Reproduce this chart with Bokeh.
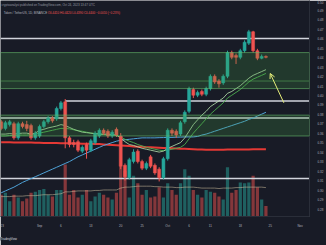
import pandas as pd
from bokeh.plotting import figure
from bokeh.models import (Range1d, FixedTicker, SingleIntervalTicker, NumeralTickFormatter,
                          BoxAnnotation, Label, Arrow, OpenHead, ColumnDataSource, Title)
from bokeh.embed import file_html
from bokeh.resources import INLINE

# ---------------- data ----------------
dates = [d.strftime("%b %d") for d in pd.date_range("2023-08-23", "2023-10-24", freq="D")]

opens = [.372,.365,.369,.370,.355,.370,.369,.368,.355,.357, .367,.372,.376,.375,.386,.393,.355,.350,.351,.341,
         .348,.342,.350,.357,.363,.362,.357,.364,.357,.326, .313,.330,.341,.330,.323,.335,.326,.322,.313,.333,
         .363,.362,.359,.372,.383,.406,.400,.404,.401,.407, .420,.415,.413,.420,.445,.442,.440,.447,.455,.467,
         .447,.439,.441]
highs = [.374,.373,.374,.372,.372,.372,.373,.370,.362,.369, .374,.378,.378,.388,.394,.396,.357,.353,.353,.347,
         .350,.354,.362,.365,.365,.364,.363,.366,.360,.328, .334,.343,.343,.332,.330,.337,.328,.324,.335,.365,
         .365,.364,.373,.384,.409,.408,.405,.406,.409,.422, .422,.417,.422,.447,.447,.444,.449,.458,.469,.468,
         .449,.443,.442]
lows = [.363,.363,.367,.353,.353,.365,.362,.353,.353,.355, .365,.370,.371,.373,.384,.344,.345,.345,.340,.339,
        .333,.340,.348,.355,.358,.355,.355,.356,.322,.310, .311,.328,.328,.321,.321,.323,.316,.309,.311,.331,
        .357,.355,.357,.370,.381,.397,.398,.399,.399,.405, .412,.408,.411,.418,.438,.433,.438,.445,.453,.445,
        .437,.438,.439]
closes = [.365,.371,.372,.355,.370,.367,.365,.355,.360,.367, .372,.376,.373,.386,.392,.355,.348,.348,.342,.345,
          .342,.352,.360,.363,.360,.357,.361,.358,.325,.314, .332,.340,.330,.323,.328,.325,.318,.313,.333,.363,
          .360,.358,.371,.382,.407,.400,.403,.401,.407,.420, .414,.412,.420,.445,.440,.440,.447,.456,.467,.447,
          .439,.441,.440]
volumes = [23,25,16,23,20,16,19,25,26,28, 29,23,21,28,28,55,23,28,20,23,
           28,16,21,25,23,20,18,25,53,48, 20,43,35,23,28,20,21,31,20,35,
           28,23,35,50,43,28,23,20,28,26, 25,21,18,52,25,28,36,35,36,43,
           31,18,11]
vol_ma = [21,21,21,21.5,21.5,21.5,22,22,22,22.5, 23,23,23,23.5,24,26,26,26.5,27,27,
          27,27,27.5,27.5,28,28,28,28,30,31, 31,31.5,32,32,32,32,31.5,31.5,31,31,
          31,30.5,30.5,31,31,31,30.5,30,30,30, 30,29.5,30,30,30,30.5,30.5,31,31,31,
          31,31,30.5]
sma_red = [.3505,.3504,.3503,.3502,.3502,.3501,.3500,.3500,.3499,.3498, .3497,.3496,.3496,.3495,.3494,.3493,.3492,.3491,.3490,.3489,
           .3488,.3487,.3486,.3484,.3481,.3478,.3475,.3472,.3469,.3466, .3463,.3460,.3457,.3455,.3452,.3450,.3448,.3446,.3444,.3442,
           .3440,.3438,.3436,.3434,.3432,.3430,.3428,.3426,.3424,.3424, .3424,.3425,.3425,.3426,.3426,.3427,.3427,.3428,.3428,.3429,
           .3429,.3430,.3430]
sma_blue = [.297,.299,.301,.303,.3055,.308,.310,.312,.314,.316, .318,.320,.322,.324,.326,.328,.330,.3325,.335,.337,
            .339,.341,.343,.345,.347,.3485,.350,.3515,.3525,.353, .3535,.354,.3545,.355,.355,.355,.355,.3552,.3553,.3555,
            .3555,.3557,.3558,.356,.356,.356,.3565,.358,.359,.3605, .362,.3635,.365,.3665,.368,.3695,.371,.3725,.3745,.376,
            .378,.380,.382]
ema_fast = [.359,.359,.3595,.359,.3595,.360,.360,.359,.360,.363, .364,.3655,.3665,.3675,.369,.368,.366,.364,.3625,.361,
            .3605,.360,.3595,.359,.359,.359,.3585,.358,.355,.351, .348,.347,.3455,.344,.343,.342,.341,.340,.341,.344,
            .346,.348,.350,.355,.362,.369,.374,.379,.383,.388, .391,.394,.397,.402,.404,.407,.410,.414,.418,.421,
            .423,.425,.427]
ema_slow = [.357,.357,.3575,.3575,.358,.358,.358,.3585,.359,.360, .361,.362,.363,.364,.365,.365,.3645,.3635,.3625,.362,
            .361,.360,.3595,.359,.3585,.358,.358,.3575,.356,.3535, .3515,.350,.348,.3465,.345,.344,.343,.342,.3415,.342,
            .343,.344,.345,.348,.354,.360,.365,.370,.375,.380, .384,.388,.392,.397,.400,.403,.406,.410,.414,.417,
            .419,.421,.423]

# levels / zones (prices)
white_levels = [0.460, 0.376, 0.312]
break_level = 0.394          # drawn from the Sep 7 high onward
break_start = 15
zone_upper = (0.407, 0.445)
zone_upper_mid = 0.415
zone_lower = (0.357, 0.379)
last_price = 0.440

tick_idx = [0, 9, 14, 21, 28, 33, 39, 44, 49, 56, 63, 70]
tick_txt = ["23", "Sep", "6", "13", "20", "25", "Oct", "6", "11", "18", "25", "Nov"]

# ---------------- figure ----------------
BG = "#181b26"
GREEN = "#26a69a"
RED = "#ef5350"

n = len(opens)
idx = list(range(n))
up = [c >= o for o, c in zip(opens, closes)]
col = [GREEN if u else RED for u in up]
src = ColumnDataSource(dict(i=idx, d=dates, o=opens, h=highs, l=lows, c=closes,
                            top=[max(o, c) for o, c in zip(opens, closes)],
                            bot=[min(o, c) for o, c in zip(opens, closes)],
                            col=col, vol=volumes, vma=vol_ma,
                            red=sma_red, blue=sma_blue, f=ema_fast, s=ema_slow))

p = figure(width=326, height=245, output_backend="svg", toolbar_location=None,
           x_range=Range1d(-0.15, 72.2), y_range=Range1d(0.272, 0.500),
           y_axis_location="right", min_border_left=0, min_border_top=0,
           min_border_right=0, min_border_bottom=0,
           background_fill_color=BG, border_fill_color=BG, outline_line_color=None)
p.extra_y_ranges = {"vol": Range1d(0, 228)}
p.grid.grid_line_color = None

# zones
p.add_layout(BoxAnnotation(bottom=zone_upper[0], top=zone_upper[1], fill_color="#43a047", fill_alpha=0.23,
                           line_color="#66bb6a", line_alpha=0.6, line_width=1))
p.add_layout(BoxAnnotation(bottom=zone_lower[0], top=zone_lower[1], fill_color="#43a047", fill_alpha=0.23,
                           line_color="#66bb6a", line_alpha=0.6, line_width=1))
p.segment(x0=[-0.15], x1=[72.2], y0=[zone_upper_mid], y1=[zone_upper_mid], line_color="#66bb6a",
          line_alpha=0.5, line_width=1)

# volume
p.vbar(x="i", top="vol", bottom=0, width=0.75, fill_color="col", line_color=None, fill_alpha=0.5,
       y_range_name="vol", source=src)
p.line("i", "vma", source=src, y_range_name="vol", line_color="#c9b99a", line_alpha=0.55, line_width=1)

# white levels
p.segment(x0=[-0.15] * len(white_levels), x1=[72.2] * len(white_levels), y0=white_levels, y1=white_levels,
          line_color="#d1d4dc", line_width=1.5)
p.segment(x0=[break_start], x1=[72.2], y0=[break_level], y1=[break_level], line_color="#d1d4dc", line_width=1.5)

# moving averages
p.line("i", "red", source=src, line_color="#e53935", line_width=2)
p.line("i", "blue", source=src, line_color="#4fa3d8", line_width=1)
p.line("i", "s", source=src, line_color="#4caf50", line_width=1, line_alpha=0.9)
p.line("i", "f", source=src, line_color="#b9e6b0", line_width=1, line_alpha=0.8)

# candles
p.segment(x0="i", x1="i", y0="h", y1="l", line_color="col", line_width=1, source=src)
p.vbar(x="i", top="top", bottom="bot", width=0.7, fill_color="col", line_color="col", line_width=0.5, source=src)

# arrow
p.add_layout(Arrow(x_start=66.2, y_start=0.392, x_end=63.0, y_end=0.423, line_color="#e6ee7a", line_width=1,
                   end=OpenHead(size=5, line_color="#e6ee7a", line_width=1)))

# header text
p.add_layout(Label(x=0.1, y=0.4955, text="cryptoanalyst published on TradingView.com, Oct 24, 2023 13:47 UTC",
                   text_font_size="3px", text_color="#9598a1", text_baseline="middle"))
p.add_layout(Label(x=0.6, y=0.4875, text="Token / TetherUS, 1D, BINANCE",
                   text_font_size="3px", text_color="#b2b5be", text_baseline="middle"))
p.add_layout(Label(x=10.9, y=0.4875, text="O0.4410 H0.4420 L0.4390 C0.4400 −0.0010 (−0.23%)",
                   text_font_size="3px", text_color=RED, text_baseline="middle"))
# price tags
p.add_layout(Label(x=72.2, y=last_price, text="0.440", x_offset=1, text_font_size="3px", text_color="white",
                   text_baseline="middle", background_fill_color=RED))
p.add_layout(Label(x=72.2, y=white_levels[1], text="0.376", x_offset=1, text_font_size="3px", text_color="#131722",
                   text_baseline="middle", background_fill_color="#d1d4dc"))

# axes
p.yaxis.ticker = SingleIntervalTicker(interval=0.01)
p.yaxis.formatter = NumeralTickFormatter(format="0.00")
p.xaxis.ticker = FixedTicker(ticks=tick_idx)
p.xaxis.major_label_overrides = {k: v for k, v in zip(tick_idx, tick_txt)}
for ax in (p.xaxis, p.yaxis):
    ax.axis_line_color = "#2a2e39"
    ax.major_tick_line_color = None
    ax.minor_tick_line_color = None
    ax.major_label_text_font_size = "3px"
    ax.major_label_text_color = "#b2b5be"
    ax.major_label_standoff = 2

p.add_layout(Title(text="TradingView", text_font_size="3px", text_color="#d1d4dc", align="left",
                   background_fill_color="#1e222d", text_font_style="normal"), "below")

open("out.html", "w").write(file_html(p, INLINE))
